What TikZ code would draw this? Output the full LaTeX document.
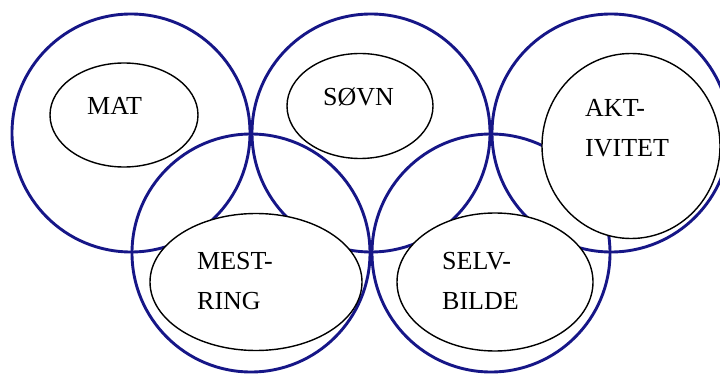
\documentclass[tikz,border=0pt]{standalone}
\usepackage{fontspec}
\setmainfont{Liberation Serif}
\usetikzlibrary{shapes.geometric}
\begin{document}
\begin{tikzpicture}[x=1pt,y=-1pt,
ring/.style={draw=ringbla,line width=2.9pt,circle,minimum size=238pt,inner sep=0pt},
boble/.style={draw=black,line width=1.4pt,fill=white,ellipse,inner sep=0pt},
tekst/.style={anchor=base west,inner sep=0pt,align=left,font=\fontsize{26}{40}\selectfont}]
\definecolor{ringbla}{RGB}{22,22,135}
\useasboundingbox (0,0) rectangle (720,374);
\node[ring] (ringmat) at (131,133) {};
\node[ring] (ringsovn) at (371,133) {};
\node[ring] (ringakt) at (611,133) {};
\node[ring] (ringmest) at (251,253) {};
\node[ring] (ringselv) at (491,253) {};
\node[boble,minimum width=148pt,minimum height=104pt] (mat) at (124,115) {};
\node[boble,minimum width=146pt,minimum height=105pt] (sovn) at (360,106) {};
\node[boble,minimum width=178pt,minimum height=185pt] (aktivitet) at (631,146) {};
\node[boble,minimum width=212pt,minimum height=137pt] (mestring) at (256,282) {};
\node[boble,minimum width=196pt,minimum height=138pt] (selvbilde) at (495,282) {};
\node[tekst] (mattekst) at (87,115) {MAT};
\node[tekst] (sovntekst) at (323,106) {SØVN};
\node[tekst] (akttekst) at (585,157) {AKT-\\IVITET};
\node[tekst] (mesttekst) at (197,309) {MEST-\\RING};
\node[tekst] (selvtekst) at (442,309) {SELV-\\BILDE};
\end{tikzpicture}
\end{document}
